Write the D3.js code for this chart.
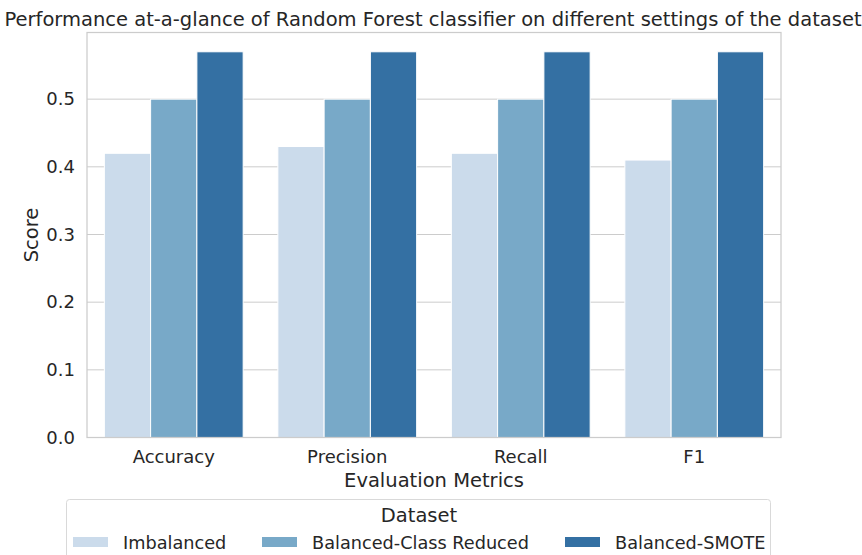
<!DOCTYPE html>
<html>
<head>
<meta charset="utf-8">
<script src="https://cdn.jsdelivr.net/npm/d3@7"></script>
<style>
  body { margin: 0; background: #fff; }
  svg { font-family: "DejaVu Sans", sans-serif; }
</style>
</head>
<body>
<div id="chart"></div>
<script>
var metrics = ["Accuracy", "Precision", "Recall", "F1"];
var datasets = ["Imbalanced", "Balanced-Class Reduced", "Balanced-SMOTE"];
var imbalanced = [0.42, 0.43, 0.42, 0.41];
var reduced = [0.50, 0.50, 0.50, 0.50];
var smote = [0.57, 0.57, 0.57, 0.57];
var yTicks = [0.0, 0.1, 0.2, 0.3, 0.4, 0.5];
var colors = ["#cbdbeb", "#78a9c8", "#3470a3"];

var fullWidth = 862, fullHeight = 555;
var margin = {left: 87, right: 81, top: 32.5, bottom: 117.5};
var width = fullWidth - margin.left - margin.right;
var height = fullHeight - margin.top - margin.bottom;

var series = [imbalanced, reduced, smote];
var data = [];
metrics.forEach(function (m, i) {
    datasets.forEach(function (ds, j) {
        data.push({metric: m, dataset: ds, value: series[j][i]});
    });
});

var svg = d3.select("#chart").append("svg")
    .attr("width", fullWidth)
    .attr("height", fullHeight);

var chartGroup = svg.append("g")
    .attr("transform", "translate(" + margin.left + "," + margin.top + ")");

var x = d3.scaleBand().domain(metrics).range([0, width]).paddingInner(0.2).paddingOuter(0.1);
var xInner = d3.scaleBand().domain(datasets).range([0, x.bandwidth()]);
var y = d3.scaleLinear().domain([0, 0.57 * 1.05]).range([height, 0]);
var color = d3.scaleOrdinal().domain(datasets).range(colors);

// grid
chartGroup.selectAll(".grid")
    .data(yTicks)
    .enter()
    .append("line")
    .attr("x1", 0).attr("x2", width)
    .attr("y1", d => y(d)).attr("y2", d => y(d))
    .attr("stroke", "#cccccc")
    .attr("stroke-width", 1);

// bars
chartGroup.selectAll(".bar")
    .data(data)
    .enter()
    .append("rect")
    .attr("x", d => x(d.metric) + xInner(d.dataset))
    .attr("y", d => y(d.value))
    .attr("width", xInner.bandwidth())
    .attr("height", d => height - y(d.value))
    .attr("fill", d => color(d.dataset))
    .attr("stroke", "#ffffff")
    .attr("stroke-width", 1);

// frame
chartGroup.append("rect")
    .attr("x", 0).attr("y", 0)
    .attr("width", width).attr("height", height)
    .attr("fill", "none")
    .attr("stroke", "#cccccc")
    .attr("stroke-width", 1.25);

// y axis labels
var yAxis = chartGroup.append("g")
    .call(d3.axisLeft(y).tickValues(yTicks).tickFormat(d3.format(".1f")).tickSize(0).tickPadding(12));
yAxis.select(".domain").remove();
yAxis.selectAll("text").attr("font-size", 18).attr("fill", "#262626").attr("font-family", "DejaVu Sans");

// x axis labels
var xAxis = chartGroup.append("g")
    .attr("transform", "translate(0," + height + ")")
    .call(d3.axisBottom(x).tickSize(0).tickPadding(13));
xAxis.select(".domain").remove();
xAxis.selectAll("text").attr("font-size", 18).attr("fill", "#262626").attr("font-family", "DejaVu Sans");

// axis titles
svg.append("text")
    .attr("x", margin.left + width / 2)
    .attr("y", 487)
    .attr("text-anchor", "middle")
    .attr("font-size", 19.5)
    .attr("fill", "#262626")
    .text("Evaluation Metrics");

svg.append("text")
    .attr("transform", "translate(38," + (margin.top + height / 2) + ") rotate(-90)")
    .attr("text-anchor", "middle")
    .attr("font-size", 19.5)
    .attr("fill", "#262626")
    .text("Score");

// title
svg.append("text")
    .attr("x", margin.left + width / 2 - 1)
    .attr("y", 26)
    .attr("text-anchor", "middle")
    .attr("font-size", 19.5)
    .attr("fill", "#262626")
    .text("Performance at-a-glance of Random Forest classifier on different settings of the dataset");

// legend
var legend = svg.append("g");
legend.append("rect")
    .attr("x", 66.5).attr("y", 499.5)
    .attr("width", 704).attr("height", 70)
    .attr("rx", 3)
    .attr("fill", "#ffffff")
    .attr("stroke", "#d9d9d9")
    .attr("stroke-width", 1);
legend.append("text")
    .attr("x", 419)
    .attr("y", 522)
    .attr("text-anchor", "middle")
    .attr("font-size", 19.5)
    .attr("fill", "#262626")
    .text("Dataset");

var legendX = [73, 262, 565];
datasets.forEach(function (ds, i) {
    legend.append("rect")
        .attr("x", legendX[i]).attr("y", 537)
        .attr("width", 35).attr("height", 10)
        .attr("fill", color(ds));
    legend.append("text")
        .attr("x", legendX[i] + 50)
        .attr("y", 549)
        .attr("font-size", 17.7)
        .attr("fill", "#262626")
        .text(ds);
});
</script>
</body>
</html>
